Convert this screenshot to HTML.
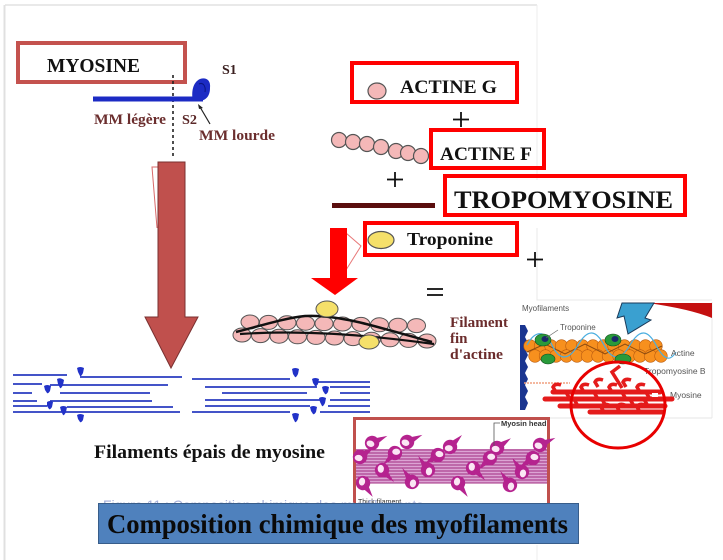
<!DOCTYPE html>
<html><head><meta charset="utf-8"><style>
html,body{margin:0;padding:0;background:#fff;}
svg{display:block;}
.s{font-family:"Liberation Serif",serif;font-weight:bold;}
.a{font-family:"Liberation Sans",sans-serif;}
</style></head><body>
<svg width="723" height="560" viewBox="0 0 723 560" xmlns="http://www.w3.org/2000/svg">
<rect width="723" height="560" fill="#fff"/>
<!-- faint frame lines -->
<line x1="5" y1="5" x2="537" y2="5" stroke="#e2e2e2" stroke-width="1.5"/>
<line x1="4.5" y1="5" x2="4.5" y2="560" stroke="#e0e0e0" stroke-width="2"/>
<line x1="537" y1="5" x2="537" y2="180" stroke="#ededed" stroke-width="1"/>
<path d="M537 228 V300 H712" fill="none" stroke="#e8e8e8"/>
<line x1="537" y1="545" x2="537" y2="560" stroke="#ececec"/>

<!-- MYOSINE box -->
<rect x="18" y="43" width="167" height="39" fill="none" stroke="#c4524e" stroke-width="4"/>
<text class="s" x="47" y="72" font-size="20" textLength="93" lengthAdjust="spacingAndGlyphs" fill="#111">MYOSINE</text>

<!-- myosin molecule -->
<line x1="173" y1="75" x2="173" y2="157" stroke="#222" stroke-width="1.6" stroke-dasharray="3,3"/>
<rect x="93" y="96.5" width="110" height="5" fill="#1c2bc4"/>
<path d="M193,101 C191,92 193,82 200,79 C206,77 211,80 210,88 C210,96 206,101 198,101 Z" fill="#1c2bc4"/>
<path d="M199,84 C203,82 206,86 205,92" fill="none" stroke="#0a1580" stroke-width="1"/>
<text class="s" x="222" y="74" font-size="14" fill="#3b2020">S1</text>
<text class="s" x="94" y="124" font-size="15" textLength="72" lengthAdjust="spacingAndGlyphs" fill="#6b2e2e">MM légère</text>
<text class="s" x="182" y="124" font-size="14" textLength="15" lengthAdjust="spacingAndGlyphs" fill="#5b2828">S2</text>
<text class="s" x="199" y="140" font-size="15" textLength="76" lengthAdjust="spacingAndGlyphs" fill="#6b2e2e">MM lourde</text>
<line x1="210" y1="124" x2="200" y2="107" stroke="#222" stroke-width="1.2"/>
<path d="M198,104 L203,108 L199,109 Z" fill="#222"/>

<!-- big brown arrow -->
<path d="M158,167 L152,167 L157,228" fill="none" stroke="#d86a6a" stroke-width="1"/>
<path d="M158,162 H185 V317 H198 L171,368 L145,317 H158 Z" fill="#c0504d" stroke="#7a3030" stroke-width="1"/>

<!-- thick filaments (blue) -->
<g stroke="#2a3bc0" stroke-width="1.7" fill="none">
<line x1="13" y1="375" x2="67" y2="375"/>
<line x1="80" y1="377" x2="182" y2="377"/>
<line x1="13" y1="384" x2="42" y2="384"/>
<line x1="50" y1="385" x2="168" y2="385"/>
<line x1="13" y1="393" x2="32" y2="393"/>
<line x1="60" y1="393" x2="150" y2="393"/>
<line x1="13" y1="401" x2="37" y2="401"/>
<line x1="50" y1="401" x2="152" y2="401"/>
<line x1="13" y1="406" x2="47" y2="406"/>
<line x1="67" y1="407" x2="173" y2="407"/>
<line x1="13" y1="412" x2="180" y2="412"/>
<line x1="192" y1="379" x2="290" y2="379"/>
<line x1="313" y1="382" x2="370" y2="382"/>
<line x1="205" y1="387" x2="317" y2="387"/>
<line x1="330" y1="387" x2="370" y2="387"/>
<line x1="222" y1="393" x2="307" y2="393"/>
<line x1="340" y1="393" x2="370" y2="393"/>
<line x1="205" y1="400" x2="320" y2="400"/>
<line x1="330" y1="400" x2="370" y2="400"/>
<line x1="205" y1="406" x2="310" y2="406"/>
<line x1="328" y1="406" x2="370" y2="406"/>
<line x1="192" y1="412" x2="290" y2="412"/>
<line x1="320" y1="412" x2="370" y2="412"/>
</g>
<g fill="#2232c8">
<path d="M77,368 Q80,366 84,368 L83,373 Q81,377 80,376 L78,372 Z"/>
<path d="M57,379 Q60,377 64,380 L63,385 Q61,389 60,388 L58,384 Z"/>
<path d="M44,386 Q47,384 51,386 L50,391 Q48,394 47,393 L45,390 Z"/>
<path d="M47,402 Q50,400 53,402 L52,407 Q50,410 49,409 L47,406 Z"/>
<path d="M60,407 Q63,405 67,407 L66,412 Q64,416 63,415 L61,411 Z"/>
<path d="M77,415 Q80,413 84,415 L83,420 Q81,423 80,422 L78,419 Z"/>
<path d="M292,369 Q295,367 299,369 L298,374 Q296,378 295,377 L293,374 Z"/>
<path d="M312,379 Q315,377 319,379 L318,384 Q316,387 315,386 L313,383 Z"/>
<path d="M322,387 Q325,385 329,387 L328,392 Q326,395 325,394 L323,391 Z"/>
<path d="M319,398 Q322,396 326,398 L325,403 Q323,407 322,406 L320,402 Z"/>
<path d="M310,407 Q313,405 317,407 L316,412 Q314,415 313,414 L311,411 Z"/>
<path d="M292,414 Q295,412 299,414 L298,419 Q296,423 295,422 L293,418 Z"/>
</g>
<text class="s" x="94" y="458" font-size="19" textLength="231" lengthAdjust="spacingAndGlyphs" fill="#111">Filaments épais de myosine</text>

<!-- ACTINE G -->
<rect x="352" y="63" width="165" height="39" fill="none" stroke="#f00" stroke-width="4"/>
<ellipse cx="377" cy="91" rx="9" ry="8" fill="#f4b8b8" stroke="#555" stroke-width="1.2"/>
<text class="s" x="400" y="93" font-size="18.5" textLength="97" lengthAdjust="spacingAndGlyphs" fill="#111">ACTINE G</text>
<g stroke="#111" stroke-width="1.8">
<line x1="453" y1="119.5" x2="469" y2="119.5"/><line x1="461" y1="112" x2="461" y2="127"/>
<line x1="387" y1="179.5" x2="403" y2="179.5"/><line x1="395" y1="172" x2="395" y2="187"/>
<line x1="527" y1="259.5" x2="543" y2="259.5"/><line x1="535" y1="252" x2="535" y2="267"/>
<line x1="427" y1="289" x2="443" y2="289"/><line x1="427" y1="295" x2="443" y2="295"/>
</g>

<!-- actin chain -->
<g fill="#f4b8b8" stroke="#555" stroke-width="1.2">
<circle cx="339" cy="140" r="7.5"/><circle cx="353" cy="142" r="7.5"/><circle cx="367" cy="144" r="7.5"/>
<circle cx="381" cy="147" r="7.5"/><circle cx="396" cy="151" r="7.5"/><circle cx="408" cy="153" r="7.5"/>
<circle cx="421" cy="156" r="7.5"/>
</g>
<rect x="431" y="130" width="113" height="38" fill="none" stroke="#f00" stroke-width="4"/>
<text class="s" x="440" y="160" font-size="18.5" textLength="92" lengthAdjust="spacingAndGlyphs" fill="#111">ACTINE F</text>

<!-- tropomyosin -->
<rect x="332" y="203" width="103" height="5" fill="#5a0e0e"/>
<rect x="445" y="176" width="240" height="39" fill="none" stroke="#f00" stroke-width="4"/>
<text class="s" x="454" y="208" font-size="25" textLength="219" lengthAdjust="spacingAndGlyphs" fill="#111">TROPOMYOSINE</text>

<!-- troponine -->
<rect x="365" y="223" width="152" height="32" fill="none" stroke="#f00" stroke-width="4"/>
<ellipse cx="381" cy="240" rx="13" ry="8.5" fill="#f5e06a" stroke="#555" stroke-width="1.2"/>
<text class="s" x="407" y="245" font-size="18" textLength="86" lengthAdjust="spacingAndGlyphs" fill="#111">Troponine</text>

<!-- red arrow -->
<path d="M346,233 L361,246 L346,270" fill="none" stroke="#e87878" stroke-width="1"/>
<path d="M330,228 H347 V278 H358 L335,295 L311,278 H330 Z" fill="#f00"/>

<!-- thin filament -->
<g fill="#f4b8b8" stroke="#555" stroke-width="1">
<ellipse cx="242" cy="335" rx="9" ry="7"/><ellipse cx="260.5" cy="335.6" rx="9" ry="7"/><ellipse cx="279" cy="336.2" rx="9" ry="7"/>
<ellipse cx="297.5" cy="336.8" rx="9" ry="7"/><ellipse cx="316" cy="337.4" rx="9" ry="7"/><ellipse cx="334.5" cy="338" rx="9" ry="7"/>
<ellipse cx="353" cy="338.6" rx="9" ry="7"/><ellipse cx="371.5" cy="339.2" rx="9" ry="7"/><ellipse cx="390" cy="339.8" rx="9" ry="7"/>
<ellipse cx="408.5" cy="340.4" rx="9" ry="7"/><ellipse cx="427" cy="341" rx="9" ry="7"/>
<ellipse cx="250" cy="322" rx="9" ry="7"/><ellipse cx="268.5" cy="322.4" rx="9" ry="7"/><ellipse cx="287" cy="322.8" rx="9" ry="7"/>
<ellipse cx="305.5" cy="323.2" rx="9" ry="7"/><ellipse cx="324" cy="323.6" rx="9" ry="7"/><ellipse cx="342.5" cy="324" rx="9" ry="7"/>
<ellipse cx="361" cy="324.4" rx="9" ry="7"/><ellipse cx="379.5" cy="324.8" rx="9" ry="7"/><ellipse cx="398" cy="325.2" rx="9" ry="7"/>
<ellipse cx="416.5" cy="325.6" rx="9" ry="7"/>
</g>
<path d="M236,332 C260,326 285,318 305,316 C340,314 380,328 432,342" fill="none" stroke="#111" stroke-width="2.5"/>
<path d="M240,334 C300,330 360,334 434,344" fill="none" stroke="#111" stroke-width="2.2"/>
<ellipse cx="327" cy="309" rx="11" ry="8" fill="#f5e06a" stroke="#555" stroke-width="1"/>
<ellipse cx="369" cy="342" rx="10" ry="7" fill="#f5e06a" stroke="#555" stroke-width="1"/>
<text class="s" x="450" y="327" font-size="15" textLength="58" lengthAdjust="spacingAndGlyphs" fill="#6b2c2c">Filament</text>
<text class="s" x="450" y="343" font-size="15" fill="#6b2c2c">fin</text>
<text class="s" x="450" y="359" font-size="15" textLength="53" lengthAdjust="spacingAndGlyphs" fill="#6b2c2c">d'actine</text>

<!-- Myofilaments image -->
<line x1="550" y1="418" x2="712" y2="418" stroke="#e4e4e4"/>
<line x1="712" y1="302" x2="712" y2="418" stroke="#e8e8e8"/>
<path d="M648,303 L712,303 L712,318 Q690,309 648,303 Z" fill="#c41010"/>
<path d="M622,303 L654,303 L645,318 L651,320 L628,334 L624,316 L617,318 Z" fill="#3aa0d0" stroke="#1a3a5a" stroke-width="1"/>
<text class="a" x="522" y="311" font-size="8" fill="#555">Myofilaments</text>
<path d="M520,325 H525 L528,331 L525,337 L528,343 L525,349 L528,355 L525,361 L528,367 L525,373 L528,379 L525,385 L528,391 L525,397 L528,403 L525,410 H520 Z" fill="#1a3590"/>
<g fill="#f7901e" stroke="#b85a10" stroke-width="0.6">
<circle cx="530" cy="346" r="6.3"/><circle cx="540.5" cy="346" r="6.3"/><circle cx="551" cy="346" r="6.3"/><circle cx="561.5" cy="346" r="6.3"/>
<circle cx="572" cy="346" r="6.3"/><circle cx="582.5" cy="346" r="6.3"/><circle cx="593" cy="346" r="6.3"/><circle cx="603.5" cy="346" r="6.3"/>
<circle cx="614" cy="346" r="6.3"/><circle cx="624.5" cy="346" r="6.3"/><circle cx="635" cy="346" r="6.3"/><circle cx="645.5" cy="346" r="6.3"/>
<circle cx="656" cy="346" r="6.3"/>
<circle cx="535" cy="356" r="6.3"/><circle cx="545.5" cy="356" r="6.3"/><circle cx="556" cy="356" r="6.3"/><circle cx="566.5" cy="356" r="6.3"/>
<circle cx="577" cy="356" r="6.3"/><circle cx="587.5" cy="356" r="6.3"/><circle cx="598" cy="356" r="6.3"/><circle cx="608.5" cy="356" r="6.3"/>
<circle cx="619" cy="356" r="6.3"/><circle cx="629.5" cy="356" r="6.3"/><circle cx="640" cy="356" r="6.3"/><circle cx="650.5" cy="356" r="6.3"/>
<circle cx="661" cy="356" r="6.3"/>
</g>
<path d="M527,352 L545,344 L565,354 L585,344 L605,354 L625,344 L645,354 L662,346" fill="none" stroke="#8a4a10" stroke-width="1"/>
<path d="M527,345 C535,330 545,330 552,345 S568,362 578,345 S596,330 604,345 S620,362 630,345 S648,330 656,345 S670,362 676,352" fill="none" stroke="#4aaee0" stroke-width="1.2"/>
<g fill="#2a9a3a" stroke="#135020" stroke-width="0.6">
<ellipse cx="543" cy="340" rx="8" ry="6"/><ellipse cx="548" cy="359" rx="7" ry="5"/>
<ellipse cx="613" cy="340" rx="8" ry="6"/><ellipse cx="623" cy="359" rx="8" ry="5"/>
</g>
<g fill="#1a2a6a"><ellipse cx="545" cy="339" rx="3.5" ry="3"/><ellipse cx="615" cy="339" rx="3.5" ry="3"/></g>
<line x1="558" y1="330" x2="546" y2="338" stroke="#666" stroke-width="0.7"/>
<text class="a" x="560" y="330" font-size="8" fill="#555">Troponine</text>
<text class="a" x="671" y="356" font-size="8.5" fill="#555">Actine</text>
<text class="a" x="644" y="374" font-size="8.5" fill="#555">Tropomyosine B</text>
<text class="a" x="670" y="398" font-size="8.5" fill="#555">Myosine</text>
<line x1="524" y1="383" x2="570" y2="383" stroke="#f0a080" stroke-width="1.5" stroke-dasharray="2,1"/>
<g stroke="#e41b1b" stroke-width="5" fill="none" stroke-linecap="round">
<line x1="553" y1="392" x2="660" y2="392"/>
<line x1="545" y1="399" x2="672" y2="399"/>
<line x1="560" y1="406" x2="665" y2="406"/>
<line x1="590" y1="412" x2="662" y2="412"/>
</g>
<g stroke="#e41b1b" stroke-width="3.5" fill="none">
<path d="M556,392 l-3,-5 q2,-4 8,-2"/><path d="M570,399 l-3,-5 q2,-4 8,-2"/><path d="M584,392 l-3,-5 q2,-4 8,-2"/>
<path d="M598,399 l-3,-5 q2,-4 8,-2"/><path d="M612,392 l-3,-5 q2,-4 8,-2"/><path d="M626,399 l-3,-5 q2,-4 8,-2"/>
<path d="M640,392 l-3,-5 q2,-4 8,-2"/><path d="M650,399 l-3,-5 q2,-4 8,-2"/><path d="M578,406 l-3,-5 q2,-4 8,-2"/>
<path d="M606,406 l-3,-5 q2,-4 8,-2"/><path d="M634,406 l-3,-5 q2,-4 8,-2"/><path d="M620,412 l-3,-5 q2,-4 8,-2"/>
<path d="M598,387 l-3,-5 q2,-4 8,-2"/><path d="M626,387 l-3,-5 q2,-4 8,-2"/><path d="M648,406 l-3,-5 q2,-4 8,-2"/>
<path d="M604,412 l-3,-5 q2,-4 8,-2"/><path d="M640,412 l-3,-5 q2,-4 8,-2"/>
<path d="M622,388 L612,372 L620,366"/>
</g>
<rect x="652" y="393" width="6" height="4" fill="#fff"/>
<ellipse cx="618" cy="405" rx="47" ry="43" fill="none" stroke="#e80000" stroke-width="3"/>

<!-- thick filament image -->
<rect x="354.5" y="418.5" width="194" height="89" fill="#fff" stroke="#c0504d" stroke-width="3"/>
<rect x="356" y="449" width="191" height="34" fill="#dca4d4"/>
<g stroke="#a02c80" stroke-width="0.9">
<line x1="356" y1="450" x2="547" y2="450"/><line x1="356" y1="453" x2="547" y2="453"/><line x1="356" y1="456" x2="547" y2="456"/>
<line x1="356" y1="459" x2="547" y2="459"/><line x1="356" y1="462" x2="547" y2="462"/><line x1="356" y1="465" x2="547" y2="465"/>
<line x1="356" y1="468" x2="547" y2="468"/><line x1="356" y1="471" x2="547" y2="471"/><line x1="356" y1="474" x2="547" y2="474"/>
<line x1="356" y1="477" x2="547" y2="477"/><line x1="356" y1="480" x2="547" y2="480"/><line x1="356" y1="483" x2="547" y2="483"/>
</g>
<g fill="#b5238f">
<g transform="translate(372,443) rotate(200) scale(1.2)"><path d="M-5.5,2.5 A6,6 0 1,1 -2.5,5.5 L-10,10 Z"/><ellipse cx="1" cy="-1" rx="3.3" ry="2.6" fill="#fbe6f4"/></g>
<g transform="translate(407,442) rotate(200) scale(1.2)"><path d="M-5.5,2.5 A6,6 0 1,1 -2.5,5.5 L-10,10 Z"/><ellipse cx="1" cy="-1" rx="3.3" ry="2.6" fill="#fbe6f4"/></g>
<g transform="translate(450,447) rotate(180) scale(1.2)"><path d="M-5.5,2.5 A6,6 0 1,1 -2.5,5.5 L-10,10 Z"/><ellipse cx="1" cy="-1" rx="3.3" ry="2.6" fill="#fbe6f4"/></g>
<g transform="translate(497,448) rotate(190) scale(1.2)"><path d="M-5.5,2.5 A6,6 0 1,1 -2.5,5.5 L-10,10 Z"/><ellipse cx="1" cy="-1" rx="3.3" ry="2.6" fill="#fbe6f4"/></g>
<g transform="translate(540,445) rotate(200) scale(1.2)"><path d="M-5.5,2.5 A6,6 0 1,1 -2.5,5.5 L-10,10 Z"/><ellipse cx="1" cy="-1" rx="3.3" ry="2.6" fill="#fbe6f4"/></g>
<g transform="translate(395,453) rotate(0) scale(1.2)"><path d="M-5.5,2.5 A6,6 0 1,1 -2.5,5.5 L-10,10 Z"/><ellipse cx="1" cy="-1" rx="3.3" ry="2.6" fill="#fbe6f4"/></g>
<g transform="translate(438,455) rotate(10) scale(1.2)"><path d="M-5.5,2.5 A6,6 0 1,1 -2.5,5.5 L-10,10 Z"/><ellipse cx="1" cy="-1" rx="3.3" ry="2.6" fill="#fbe6f4"/></g>
<g transform="translate(490,458) rotate(0) scale(1.2)"><path d="M-5.5,2.5 A6,6 0 1,1 -2.5,5.5 L-10,10 Z"/><ellipse cx="1" cy="-1" rx="3.3" ry="2.6" fill="#fbe6f4"/></g>
<g transform="translate(533,458) rotate(10) scale(1.2)"><path d="M-5.5,2.5 A6,6 0 1,1 -2.5,5.5 L-10,10 Z"/><ellipse cx="1" cy="-1" rx="3.3" ry="2.6" fill="#fbe6f4"/></g>
<g transform="translate(360,457) rotate(190) scale(1.2)"><path d="M-5.5,2.5 A6,6 0 1,1 -2.5,5.5 L-10,10 Z"/><ellipse cx="1" cy="-1" rx="3.3" ry="2.6" fill="#fbe6f4"/></g>
<g transform="translate(382,470) rotate(270) scale(1.2)"><path d="M-5.5,2.5 A6,6 0 1,1 -2.5,5.5 L-10,10 Z"/><ellipse cx="1" cy="-1" rx="3.3" ry="2.6" fill="#fbe6f4"/></g>
<g transform="translate(428,470) rotate(100) scale(1.2)"><path d="M-5.5,2.5 A6,6 0 1,1 -2.5,5.5 L-10,10 Z"/><ellipse cx="1" cy="-1" rx="3.3" ry="2.6" fill="#fbe6f4"/></g>
<g transform="translate(473,468) rotate(270) scale(1.2)"><path d="M-5.5,2.5 A6,6 0 1,1 -2.5,5.5 L-10,10 Z"/><ellipse cx="1" cy="-1" rx="3.3" ry="2.6" fill="#fbe6f4"/></g>
<g transform="translate(522,472) rotate(100) scale(1.2)"><path d="M-5.5,2.5 A6,6 0 1,1 -2.5,5.5 L-10,10 Z"/><ellipse cx="1" cy="-1" rx="3.3" ry="2.6" fill="#fbe6f4"/></g>
<g transform="translate(363,483) rotate(280) scale(1.2)"><path d="M-5.5,2.5 A6,6 0 1,1 -2.5,5.5 L-10,10 Z"/><ellipse cx="1" cy="-1" rx="3.3" ry="2.6" fill="#fbe6f4"/></g>
<g transform="translate(412,482) rotate(100) scale(1.2)"><path d="M-5.5,2.5 A6,6 0 1,1 -2.5,5.5 L-10,10 Z"/><ellipse cx="1" cy="-1" rx="3.3" ry="2.6" fill="#fbe6f4"/></g>
<g transform="translate(458,483) rotate(280) scale(1.2)"><path d="M-5.5,2.5 A6,6 0 1,1 -2.5,5.5 L-10,10 Z"/><ellipse cx="1" cy="-1" rx="3.3" ry="2.6" fill="#fbe6f4"/></g>
<g transform="translate(510,485) rotate(100) scale(1.2)"><path d="M-5.5,2.5 A6,6 0 1,1 -2.5,5.5 L-10,10 Z"/><ellipse cx="1" cy="-1" rx="3.3" ry="2.6" fill="#fbe6f4"/></g>
</g>
<path d="M500,423 H494 V446" fill="none" stroke="#555" stroke-width="0.8"/>
<text class="a" x="501" y="426" font-size="7.5" font-weight="bold" fill="#333">Myosin head</text>
<text class="a" x="358" y="504" font-size="7" fill="#333">Thick filament</text>

<!-- title bar -->
<text class="a" x="103" y="510" font-size="14" fill="#a4aed8">Figure 11 : Composition chimique des myofilaments</text>
<rect x="98.5" y="503.5" width="480" height="40" fill="#4f81bd" stroke="#385d8a" stroke-width="1"/>
<text class="s" x="107" y="533" font-size="27" textLength="461" lengthAdjust="spacingAndGlyphs" fill="#0a0a0a">Composition chimique des myofilaments</text>
</svg>
</body></html>
